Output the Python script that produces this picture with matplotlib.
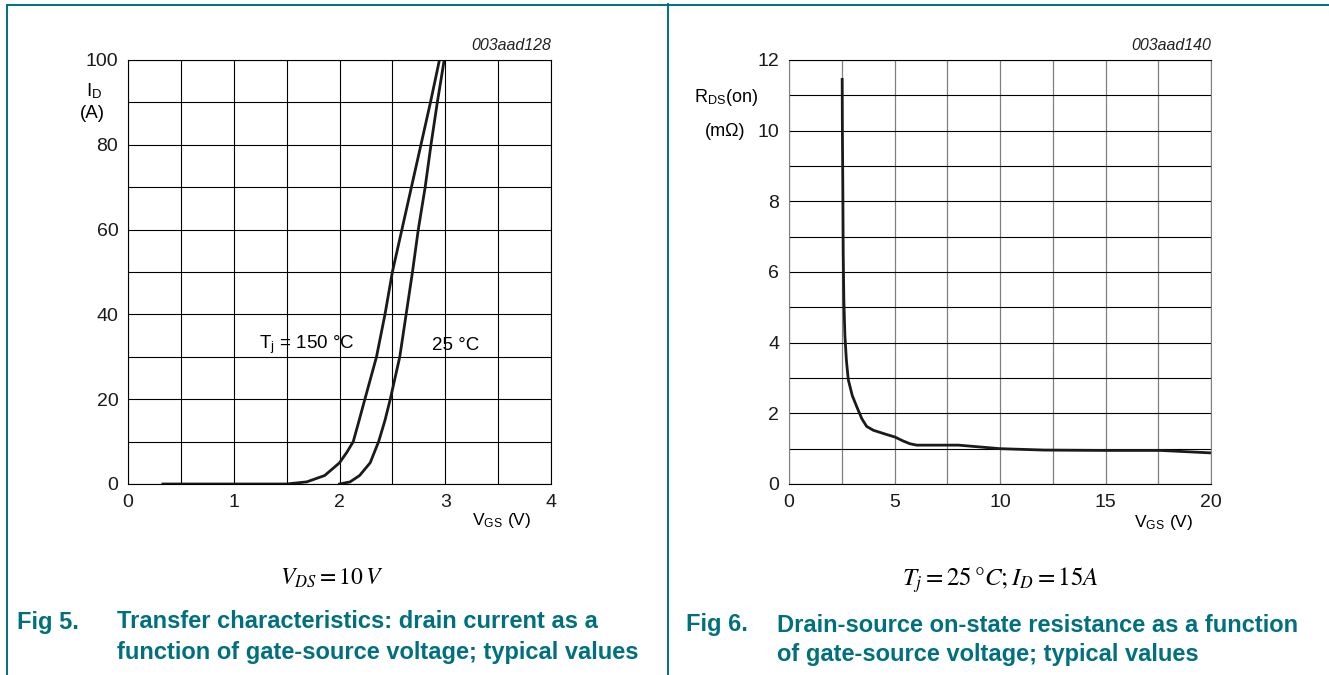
import matplotlib
matplotlib.use("Agg")
import matplotlib.pyplot as plt
from matplotlib.lines import Line2D
from matplotlib.ticker import MultipleLocator

plt.rcParams['font.family'] = ['Liberation Sans', 'DejaVu Sans']
plt.rcParams['mathtext.fontset'] = 'stix'

# Fig 5: transfer characteristics
vgs_150 = [0.33, 1.0, 1.5, 1.69, 1.86, 2.0, 2.07, 2.13, 2.18, 2.24, 2.35, 2.43, 2.50,
           2.59, 2.68, 2.77, 2.86, 2.945]
id_150 = [0, 0, 0, 0.5, 2, 5, 7.5, 10, 14.5, 20, 30, 40, 50, 60, 70, 80, 90, 100]
vgs_25 = [2.0, 2.1, 2.19, 2.29, 2.37, 2.43, 2.48, 2.57, 2.63, 2.69, 2.745, 2.81, 2.865,
          2.925, 2.99]
id_25 = [0, 0.5, 2, 5, 10, 15, 20, 30, 40, 50, 60, 70, 80, 90, 100]

# Fig 6: on-state resistance vs VGS
vgs_r = [2.52, 2.53, 2.55, 2.57, 2.60, 2.65, 2.72, 2.81, 3.0, 3.21, 3.45, 3.68, 4.0,
         4.63, 5.02, 5.4, 5.73, 6.05, 8.03, 10.0, 12.1, 15.0, 17.6, 20.0]
rds = [11.45, 10.0, 8.5, 6.5, 5.2, 4.2, 3.5, 2.95, 2.5, 2.19, 1.85, 1.63, 1.52,
       1.40, 1.33, 1.22, 1.14, 1.10, 1.10, 1.0, 0.96, 0.95, 0.95, 0.88]

W, H = 1329, 675
teal = '#00707f'
fig = plt.figure(figsize=(W / 100, H / 100), dpi=100)


def px(x, y):
    return x / W, 1 - y / H


def ftext(x, y, s, **kw):
    fx, fy = px(x, y)
    fig.text(fx, fy, s, **kw)


# frame lines
for (x0, y0), (x1, y1) in [((7, 5), (1329, 5)), ((7, 5), (7, 675)), ((668, 4), (668, 675))]:
    a, b = px(x0, y0)
    c, d = px(x1, y1)
    fig.add_artist(Line2D([a, c], [b, d], color=teal, lw=1.4))

# left chart
ax1 = fig.add_axes([128 / W, 1 - 484 / H, 423 / W, 424 / H])
ax1.plot(vgs_150, id_150, color='#1a1a1a', lw=2.0)
ax1.plot(vgs_25, id_25, color='#1a1a1a', lw=2.0)
ax1.set_xlim(0, 4)
ax1.set_ylim(0, 100)
ax1.xaxis.set_major_locator(MultipleLocator(1))
ax1.xaxis.set_minor_locator(MultipleLocator(0.5))
ax1.yaxis.set_major_locator(MultipleLocator(20))
ax1.yaxis.set_minor_locator(MultipleLocator(10))
ax1.grid(which='both', color='black', lw=0.8)
for s in ax1.spines.values():
    s.set_linewidth(0.8)

# right chart
ax2 = fig.add_axes([789 / W, 1 - 484 / H, 422 / W, 424 / H])
ax2.plot(vgs_r, rds, color='#1a1a1a', lw=2.0)
ax2.set_xlim(0, 20)
ax2.set_ylim(0, 12)
ax2.xaxis.set_major_locator(MultipleLocator(5))
ax2.xaxis.set_minor_locator(MultipleLocator(2.5))
ax2.yaxis.set_major_locator(MultipleLocator(2))
ax2.yaxis.set_minor_locator(MultipleLocator(1))
ax2.xaxis.grid(which='both', color='#808080', lw=0.9)
ax2.yaxis.grid(which='both', color='black', lw=0.8)
ax2.spines['left'].set_color('#808080')
ax2.spines['right'].set_color('#808080')
for s in ax2.spines.values():
    s.set_linewidth(0.8)

for ax in (ax1, ax2):
    ax.set_axisbelow(True)
    ax.tick_params(which='both', length=0, labelsize=14, colors='#1a1a1a')
    ax.tick_params(axis='y', pad=7)
    ax.tick_params(axis='x', pad=7)

# axis titles and labels
ftext(551, 45, '003aad128', ha='right', va='center', fontsize=11.5, style='italic', color='#222222')
ftext(1211, 46, '003aad140', ha='right', va='center', fontsize=11.5, style='italic', color='#222222')
ftext(94, 91, r'I$_\mathregular{D}$', ha='center', va='center', fontsize=13.5)
ftext(92, 114, '(A)', ha='center', va='center', fontsize=13.5)
ftext(726, 97, r'R$_\mathregular{DS}$(on)', ha='center', va='center', fontsize=13)
ftext(725, 131, '(m\u03a9)', ha='center', va='center', fontsize=13)
ftext(502, 520, r'V$_\mathregular{GS}$ (V)', ha='center', va='center', fontsize=12.5)
ftext(1164, 522, r'V$_\mathregular{GS}$ (V)', ha='center', va='center', fontsize=12.5)
ftext(259, 345, r'T$_\mathregular{j}$ = 150 °C', ha='left', va='center', fontsize=13.5)
ftext(432, 345, '25 °C', ha='left', va='center', fontsize=13.5)

# captions
ftext(332, 578, r'$V_{DS} = 10\,V$', ha='center', va='center', fontsize=17)
ftext(1000, 580, r'$T_j = 25\,°C; I_D = 15A$', ha='center', va='center', fontsize=18)
cap = dict(ha='left', va='center', fontsize=17, weight='bold', color=teal)
ftext(17, 622, 'Fig 5.', **cap)
ftext(117, 622, 'Transfer characteristics: drain current as a', **cap)
ftext(117, 653, 'function of gate-source voltage; typical values', **cap)
ftext(686, 625, 'Fig 6.', **cap)
ftext(777, 625, 'Drain-source on-state resistance as a function', **cap)
ftext(777, 655, 'of gate-source voltage; typical values', **cap)

plt.savefig('out.png', dpi=100)
